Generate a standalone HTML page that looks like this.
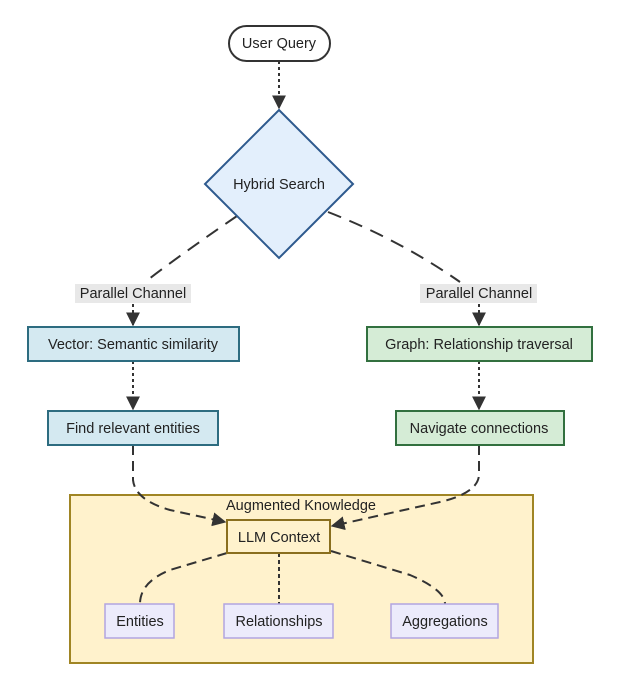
<!DOCTYPE html>
<html><head><meta charset="utf-8"><style>
body{margin:0;background:#fff;}
svg text{font-family:"Liberation Sans","DejaVu Sans",sans-serif;font-size:14.5px;fill:#222;}
</style></head><body>
<svg width="620" height="694" viewBox="0 0 620 694" xmlns="http://www.w3.org/2000/svg">
<defs><marker id="a" viewBox="0 0 10 10" refX="9" refY="5" markerWidth="7" markerHeight="7" orient="auto-start-reverse"><path d="M0,0L10,5L0,10z" fill="#333"/></marker></defs>
<rect x="70" y="495" width="463" height="168" fill="#fff2cc" stroke="#a08524" stroke-width="2"/>
<text x="301" y="510" text-anchor="middle">Augmented Knowledge</text>
<g fill="none" stroke="#333" stroke-width="2" stroke-dasharray="10,6">
<path d="M279,61 L279,108" stroke-dasharray="3,3" marker-end="url(#a)"/>
<path d="M237,216 Q180,255 145,282" stroke-dasharray="14,9"/>
<path d="M328,212 Q400,240 460,282" stroke-dasharray="14,9"/>
<path d="M133,304 L133,325" stroke-dasharray="3,3" marker-end="url(#a)"/>
<path d="M479,304 L479,325" stroke-dasharray="3,3" marker-end="url(#a)"/>
<path d="M133,361 L133,409" stroke-dasharray="3,3" marker-end="url(#a)"/>
<path d="M479,361 L479,409" stroke-dasharray="3,3" marker-end="url(#a)"/>
<path d="M133,445 L133,480 Q135,500 170,510 L225,522" marker-end="url(#a)"/>
<path d="M479,445 L479,475 Q478,493 440,502 L332,526" marker-end="url(#a)"/>
<path d="M227,553 L170,570 Q140,582 140,604"/>
<path d="M279,553 L279,604" stroke-dasharray="4,3"/>
<path d="M331,551 L410,575 Q445,590 445,604"/>
</g>
<rect x="229" y="26" width="101" height="35" rx="17.5" fill="#fff" stroke="#333" stroke-width="2"/>
<text x="279" y="48" text-anchor="middle">User Query</text>
<polygon points="279,110 353,184 279,258 205,184" fill="#e3effc" stroke="#2e5a8e" stroke-width="2"/>
<text x="279" y="189" text-anchor="middle">Hybrid Search</text>
<rect x="75" y="284" width="116" height="19" fill="#e8e8e8"/>
<text x="133" y="298" text-anchor="middle">Parallel Channel</text>
<rect x="420" y="284" width="117" height="19" fill="#e8e8e8"/>
<text x="479" y="298" text-anchor="middle">Parallel Channel</text>
<rect x="28" y="327" width="211" height="34" fill="#d4e9f1" stroke="#2d6c80" stroke-width="2"/>
<text x="133" y="349" text-anchor="middle">Vector: Semantic similarity</text>
<rect x="367" y="327" width="225" height="34" fill="#d5ecd6" stroke="#32703f" stroke-width="2"/>
<text x="479" y="349" text-anchor="middle">Graph: Relationship traversal</text>
<rect x="48" y="411" width="170" height="34" fill="#d4e9f1" stroke="#2d6c80" stroke-width="2"/>
<text x="133" y="433" text-anchor="middle">Find relevant entities</text>
<rect x="396" y="411" width="168" height="34" fill="#d5ecd6" stroke="#32703f" stroke-width="2"/>
<text x="479" y="433" text-anchor="middle">Navigate connections</text>
<rect x="227" y="520" width="103" height="33" fill="#fff2cc" stroke="#8a6f1e" stroke-width="2"/>
<text x="279" y="542" text-anchor="middle">LLM Context</text>
<rect x="105" y="604" width="69" height="34" fill="#ecebfb" stroke="#b2a5e0" stroke-width="1.5"/>
<text x="140" y="626" text-anchor="middle">Entities</text>
<rect x="224" y="604" width="109" height="34" fill="#ecebfb" stroke="#b2a5e0" stroke-width="1.5"/>
<text x="279" y="626" text-anchor="middle">Relationships</text>
<rect x="391" y="604" width="107" height="34" fill="#ecebfb" stroke="#b2a5e0" stroke-width="1.5"/>
<text x="445" y="626" text-anchor="middle">Aggregations</text>
</svg>
</body></html>
